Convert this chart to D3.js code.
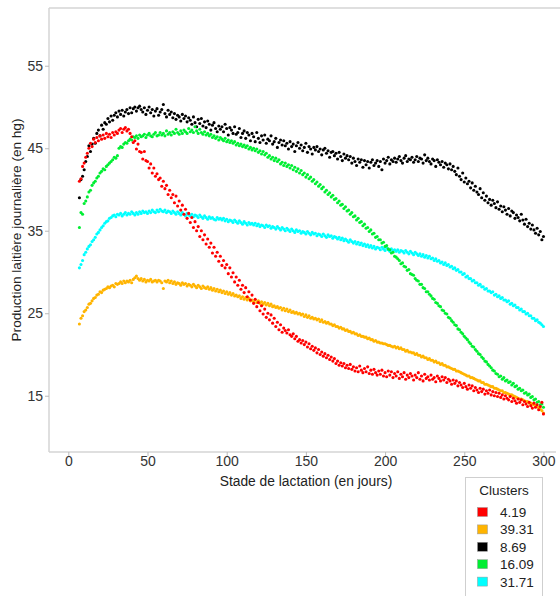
<!DOCTYPE html>
<html><head><meta charset="utf-8">
<script src="https://cdn.jsdelivr.net/npm/d3@7"></script>
<style>body{margin:0;background:#fff}svg{display:block;font-family:"Liberation Sans",Arial,sans-serif}</style>
</head><body><svg id="c" width="560" height="596"></svg>
<script>
const firstDay = 7, lastDay = 300;
const xTicks = [0, 50, 100, 150, 200, 250, 300];
const yTicks = [15, 25, 35, 45, 55];
const clusterLabels = ["4.19", "39.31", "8.69", "16.09", "31.71"];
const clusterColors = ["#ff0000", "#ffb400", "#000000", "#00ee33", "#00ffff"];

const red = [41.0,41.3,42.8,43.2,43.9,44.4,45.0,45.6,45.2,46.1,
45.7,46.3,45.9,46.5,46.1,46.6,46.2,46.8,46.4,46.7,
46.3,46.9,46.6,47.0,46.8,47.2,47.4,46.9,47.3,47.5,
47.1,47.3,46.8,46.4,45.7,45.9,44.9,45.5,44.6,44.5,
43.7,44.6,43.5,43.4,42.6,43.1,42.0,42.6,41.6,41.9,
41.2,41.4,40.4,41.0,40.1,40.5,39.4,39.9,39.0,39.4,
38.4,39.2,38.0,38.6,37.5,38.1,37.0,37.6,36.5,37.1,
36.0,36.6,35.4,36.1,35.0,35.5,34.3,35.0,33.9,34.5,
33.4,34.0,33.0,33.5,32.3,33.0,31.9,32.4,31.3,31.9,
30.8,31.4,30.5,30.9,29.8,30.5,29.4,29.9,28.8,29.4,
28.4,29.0,27.9,28.4,27.5,28.1,27.0,27.6,26.6,27.2,
26.2,26.7,25.8,26.3,25.3,25.9,24.9,25.5,24.5,25.0,
24.2,24.8,23.8,24.4,23.4,23.9,23.0,23.6,22.7,23.2,
22.9,22.6,23.0,22.4,22.2,22.5,21.9,22.2,21.6,21.8,
21.4,21.7,21.2,21.5,20.9,21.3,20.7,21.0,20.5,20.8,
20.2,20.6,20.0,20.3,19.8,20.1,19.6,19.9,19.4,19.7,
19.2,19.5,18.9,19.2,18.7,19.0,18.6,18.9,18.4,18.7,
18.3,18.8,18.2,18.5,18.0,18.4,17.9,18.6,18.1,17.8,
18.3,17.9,18.5,17.7,18.1,17.6,18.2,17.8,17.5,18.0,
17.6,18.1,17.4,17.8,17.3,18.0,17.5,17.9,17.2,17.7,
17.4,17.9,17.1,17.6,17.3,17.8,17.0,17.5,17.2,17.7,
17.4,16.9,17.5,17.2,17.8,17.0,17.4,16.8,17.6,17.1,
17.3,16.9,17.5,17.0,17.2,16.7,17.4,17.1,16.8,17.3,
16.9,17.2,16.6,17.0,16.8,16.4,16.9,16.5,16.8,16.2,
16.6,16.3,16.0,16.5,16.1,15.8,16.3,15.9,16.2,15.6,
16.0,15.7,15.4,15.9,15.5,15.8,15.2,15.6,15.3,15.7,
15.1,15.5,15.0,15.4,14.9,15.3,14.8,15.1,14.6,15.0,
14.7,14.5,14.9,14.3,14.7,14.4,14.1,14.6,14.2,14.5,
13.9,14.3,14.0,13.7,14.2,13.8,13.5,14.1,13.6,13.9,
13.3,13.7,14.2,12.8];

const orange = [23.7,24.4,24.7,25.2,25.4,25.7,26.1,26.2,26.5,26.8,
26.9,27.2,27.3,27.6,27.5,27.8,27.9,28.0,28.2,28.1,
28.3,28.4,28.2,28.6,28.5,28.6,28.8,28.6,28.9,28.7,
28.9,28.8,29.0,28.7,29.1,29.3,29.5,29.2,29.0,29.2,
28.9,29.1,28.8,29.0,28.9,29.1,28.8,28.9,29.0,28.8,
29.0,28.9,28.7,28.0,28.9,28.8,29.0,28.7,28.9,28.6,
28.8,28.5,28.7,28.6,28.4,28.7,28.5,28.6,28.3,28.5,
28.4,28.2,28.5,28.3,28.1,28.4,28.2,28.0,28.3,28.1,
28.0,28.2,27.9,28.1,27.8,28.0,27.7,27.9,27.6,27.8,
27.5,27.7,27.4,27.6,27.3,27.5,27.2,27.4,27.1,27.2,
27.0,27.1,26.8,27.0,26.7,26.9,26.6,26.8,26.5,26.6,
26.4,26.6,26.3,26.5,26.2,26.4,26.1,26.3,26.0,26.2,
25.9,26.1,25.8,25.9,25.7,25.8,25.6,25.7,25.4,25.6,
25.3,25.5,25.2,25.4,25.1,25.2,25.0,25.1,24.9,25.0,
24.8,24.9,24.6,24.8,24.5,24.7,24.4,24.5,24.3,24.4,
24.2,24.3,24.0,24.2,23.9,24.0,23.8,23.9,23.7,23.7,
23.5,23.6,23.4,23.4,23.2,23.3,23.1,23.1,22.9,23.0,
22.8,22.8,22.6,22.7,22.5,22.5,22.3,22.4,22.2,22.2,
22.1,22.1,21.9,22.0,21.8,21.8,21.6,21.7,21.5,21.5,
21.4,21.4,21.3,21.3,21.2,21.1,21.1,21.0,20.9,21.0,
20.8,20.9,20.7,20.8,20.6,20.6,20.4,20.5,20.3,20.3,
20.2,20.2,20.0,20.1,19.9,19.9,19.7,19.8,19.6,19.6,
19.4,19.5,19.3,19.3,19.1,19.2,19.0,19.0,18.8,18.9,
18.7,18.7,18.5,18.5,18.4,18.3,18.2,18.2,18.0,18.0,
17.9,17.8,17.7,17.6,17.5,17.4,17.4,17.2,17.2,17.1,
17.0,16.9,16.8,16.8,16.6,16.6,16.4,16.4,16.3,16.2,
16.1,16.1,15.9,15.9,15.8,15.7,15.6,15.6,15.4,15.4,
15.3,15.2,15.1,15.1,15.0,14.9,14.8,14.7,14.6,14.6,
14.5,14.4,14.3,14.3,14.1,14.1,14.0,13.9,13.8,13.7,
13.5,13.4,13.2,12.9];

const black = [39.0,41.2,41.6,42.4,43.4,44.0,45.3,44.6,45.5,46.2,
45.6,46.8,47.2,46.5,47.8,47.3,48.1,47.9,48.6,48.2,
48.9,48.4,49.0,49.3,48.8,49.5,49.1,49.6,48.9,49.4,
49.7,49.2,49.9,49.3,49.8,50.0,49.5,49.9,50.1,49.7,
49.4,49.9,49.1,49.6,50.0,49.3,49.7,48.9,49.5,49.8,
49.0,49.4,49.7,50.3,49.2,48.8,49.6,49.1,49.4,48.7,
49.2,48.5,49.0,48.8,48.3,49.1,48.6,48.9,48.2,48.7,
48.4,47.9,48.8,48.1,47.6,48.5,48.0,48.6,47.7,48.2,
47.5,48.3,47.9,47.2,47.8,48.1,47.4,47.0,47.7,47.3,
47.6,47.0,47.9,47.4,46.6,47.5,47.2,46.8,47.6,46.7,
46.9,47.4,46.3,46.8,47.1,46.2,46.9,46.6,45.9,46.8,
46.4,45.8,46.9,46.2,45.7,46.5,46.0,46.6,45.6,46.1,
45.9,46.5,45.5,45.8,46.2,45.1,45.7,46.0,45.4,45.9,
45.3,45.6,44.9,45.8,45.2,45.5,44.6,45.3,45.7,45.0,
45.4,44.7,45.1,45.6,44.5,45.2,44.9,44.3,45.1,44.8,
45.2,44.6,44.9,44.2,44.8,45.0,44.4,44.7,43.9,44.5,
44.6,44.1,44.4,43.7,44.5,44.0,43.5,44.3,43.8,44.1,
43.6,44.0,43.2,43.8,43.4,42.9,43.7,43.3,43.6,42.7,
43.5,43.0,43.4,42.6,43.3,43.6,42.9,43.2,43.5,42.8,
43.4,42.4,43.7,43.2,43.5,43.9,43.1,43.6,43.4,43.8,
43.3,43.7,44.0,43.5,43.2,43.8,44.1,43.4,43.7,43.6,
43.9,43.3,43.6,44.0,43.4,43.8,43.7,43.2,44.2,43.5,
43.8,43.4,43.1,43.7,43.5,42.8,43.6,43.3,43.0,43.4,
42.7,43.2,43.0,42.5,43.1,42.4,42.8,42.2,41.8,42.6,
41.6,41.2,42.0,40.9,41.4,40.7,41.0,40.2,40.8,39.9,
40.4,39.7,39.4,40.1,39.0,39.6,38.7,39.2,38.4,38.8,
38.1,38.7,38.3,37.8,38.5,37.6,38.0,37.3,37.9,37.5,
37.0,37.7,36.8,37.4,37.2,36.5,36.9,36.6,36.2,37.0,
36.3,35.8,36.4,35.5,35.9,35.2,35.7,35.1,34.7,35.3,
34.5,34.9,33.9,34.3];

const green = [35.4,37.2,37.0,38.3,38.6,39.1,39.7,39.9,40.5,40.8,
41.0,41.4,41.6,42.0,42.2,42.5,42.4,42.8,43.0,43.2,
43.4,43.6,43.9,43.8,44.1,45.0,45.2,45.1,45.5,45.7,
45.6,45.9,46.1,46.0,46.4,46.3,46.5,46.2,46.6,46.4,
46.5,46.7,46.3,46.6,46.8,46.5,46.4,46.7,46.9,46.5,
46.6,46.9,46.6,46.8,46.5,47.1,46.7,46.9,46.6,47.0,
46.8,47.3,46.9,46.7,47.1,46.8,47.2,47.0,46.8,47.4,
47.0,47.2,46.9,47.6,47.1,46.8,47.3,46.9,46.7,47.0,
46.6,46.8,46.5,46.7,46.3,46.5,46.2,46.4,46.0,46.3,
46.1,45.9,46.2,45.8,46.0,45.7,45.9,45.6,45.8,45.4,
45.6,45.3,45.5,45.2,45.4,45.1,45.3,44.9,45.1,44.8,
45.0,44.7,44.9,44.5,44.7,44.3,44.6,44.2,44.4,43.9,
44.1,43.7,43.9,43.5,43.8,43.4,43.6,43.1,43.3,42.9,
43.2,42.8,43.0,42.6,42.9,42.4,42.7,42.2,42.5,42.0,
42.3,41.8,42.0,41.5,41.8,41.3,41.5,41.0,41.2,40.7,
40.9,40.4,40.6,40.1,40.3,39.7,39.9,39.4,39.6,39.1,
39.3,38.8,38.9,38.4,38.6,38.1,38.2,37.7,37.9,37.4,
37.5,37.0,37.2,36.7,36.8,36.3,36.5,36.0,36.1,35.6,
35.8,35.3,35.4,34.9,35.1,34.6,34.7,34.2,34.3,33.9,
33.9,33.5,33.6,33.1,33.2,32.8,32.7,32.3,32.4,31.9,
31.8,31.6,31.4,31.0,31.1,30.7,30.6,30.2,30.3,29.8,
29.7,29.6,29.2,29.0,28.9,28.5,28.5,28.1,28.0,27.6,
27.6,27.3,27.1,26.8,26.7,26.3,26.2,25.9,25.8,25.4,
25.3,25.0,24.9,24.5,24.4,24.1,23.9,23.6,23.5,23.1,
23.0,22.7,22.5,22.2,22.0,21.8,21.5,21.3,21.0,20.9,
20.6,20.4,20.1,20.0,19.7,19.5,19.2,19.1,18.8,18.6,
18.4,18.1,18.0,17.7,17.6,17.3,17.4,17.0,17.2,16.8,
16.9,16.6,16.7,16.3,16.5,16.1,16.2,15.8,15.9,15.6,
15.7,15.3,15.4,15.1,15.2,14.8,14.9,14.5,14.6,14.2,
14.3,13.9,14.0,13.6];

const cyan = [30.5,30.9,31.4,32.1,32.4,32.8,33.1,33.3,33.7,33.9,
34.2,34.6,34.8,35.1,35.4,35.6,35.9,36.1,36.2,36.5,
36.6,36.8,36.9,36.7,37.0,36.9,37.1,36.8,37.0,37.2,
36.9,37.1,37.0,37.3,37.1,36.9,37.2,37.0,37.3,37.1,
37.4,37.2,37.3,37.1,37.4,37.2,37.5,37.3,37.2,37.5,
37.3,37.6,37.4,37.3,37.5,37.2,37.4,37.3,37.1,37.4,
37.2,37.0,37.3,37.1,36.9,37.2,37.0,36.8,37.1,36.9,
36.8,37.0,36.7,36.9,36.8,36.6,36.9,36.7,36.5,36.8,
36.6,36.4,36.7,36.5,36.6,36.4,36.3,36.6,36.4,36.5,
36.3,36.5,36.2,36.4,36.1,36.3,36.2,36.0,36.3,36.1,
35.9,36.2,36.0,35.8,36.1,35.9,35.7,36.0,35.8,35.9,
35.7,35.9,35.6,35.8,35.5,35.7,35.6,35.4,35.7,35.5,
35.6,35.3,35.5,35.4,35.2,35.5,35.3,35.1,35.4,35.2,
35.0,35.3,35.1,34.9,35.2,35.0,34.8,35.1,34.9,35.0,
34.7,34.9,34.8,34.6,34.9,34.7,34.5,34.8,34.6,34.7,
34.4,34.6,34.5,34.3,34.6,34.4,34.2,34.5,34.3,34.4,
34.1,34.3,34.2,34.0,34.2,33.9,34.1,33.8,34.0,33.8,
33.6,33.9,33.7,33.5,33.7,33.4,33.6,33.3,33.5,33.2,
33.4,33.1,33.3,33.0,33.2,32.9,33.1,32.8,33.0,32.9,
32.7,33.0,32.8,32.6,32.9,32.7,32.5,32.8,32.6,32.7,
32.5,32.7,32.4,32.6,32.5,32.3,32.6,32.4,32.2,32.5,
32.3,32.1,32.4,32.2,32.0,32.2,31.9,32.1,31.8,32.0,
31.7,31.9,31.6,31.7,31.4,31.6,31.3,31.4,31.1,31.2,
30.9,31.1,30.8,30.9,30.6,30.7,30.4,30.5,30.2,30.3,
30.0,30.0,29.7,29.8,29.4,29.5,29.2,29.2,28.9,29.0,
28.7,28.7,28.4,28.5,28.2,28.2,27.9,28.0,27.7,27.7,
27.5,27.6,27.2,27.3,27.0,27.1,26.8,26.9,26.6,26.6,
26.4,26.5,26.1,26.2,25.9,26.0,25.7,25.7,25.4,25.5,
25.2,25.2,24.9,25.0,24.7,24.7,24.4,24.4,24.1,24.2,
23.9,23.8,23.6,23.4];

const days = d3.range(firstDay, lastDay + 1);
const seriesValues = [red, orange, black, green, cyan];
const drawOrder = [4, 1, 2, 3, 0];

const svg = d3.select("#c");
const x = d3.scaleLinear().domain([-12.2, 303.5]).range([49, 549]);
const y = d3.scaleLinear().domain([8.18, 62]).range([452, 8]);
const frameColor = "#d4d4d4", textColor = "#333";
const fontFam = "Liberation Sans, Arial, sans-serif";

svg.append("line").attr("x1", 49).attr("x2", 560).attr("y1", 8).attr("y2", 8).attr("stroke", frameColor).attr("stroke-width", 1.5);
svg.append("line").attr("x1", 49).attr("x2", 49).attr("y1", 8).attr("y2", 452).attr("stroke", frameColor).attr("stroke-width", 1.5);
svg.append("line").attr("x1", 49).attr("x2", 556).attr("y1", 452).attr("y2", 452).attr("stroke", frameColor).attr("stroke-width", 1.5);

const gx = svg.append("g").attr("transform", "translate(0,452)")
  .call(d3.axisBottom(x).tickValues(xTicks).tickSize(4).tickSizeOuter(0).tickPadding(0));
const gy = svg.append("g").attr("transform", "translate(49,0)")
  .call(d3.axisLeft(y).tickValues(yTicks).tickSize(4).tickSizeOuter(0).tickPadding(2));
[gx, gy].forEach(g => {
  g.select(".domain").remove();
  g.selectAll(".tick line").attr("stroke", "#bbb");
  g.selectAll(".tick text").attr("fill", textColor).style("font-size", "14px").style("font-family", fontFam);
});

svg.append("text").attr("x", 306).attr("y", 486).attr("text-anchor", "middle")
  .attr("fill", "#222").style("font-size", "13.8px").text("Stade de lactation (en jours)");
svg.append("text").attr("transform", "translate(21,230) rotate(-90)").attr("text-anchor", "middle")
  .attr("fill", "#222").style("font-size", "13.6px").text("Production laitière journalière (en hg)");

const plot = svg.append("g");
drawOrder.forEach(si => {
  plot.append("g").selectAll("circle").data(seriesValues[si]).join("circle")
    .attr("cx", (d, i) => x(days[i]))
    .attr("cy", d => y(d))
    .attr("r", 1.55)
    .attr("fill", clusterColors[si]);
});

const lg = svg.append("g");
lg.append("rect").attr("x", 465.5).attr("y", 477.5).attr("width", 77).attr("height", 130)
  .attr("fill", "#fff").attr("stroke", "#cfcfcf");
lg.append("text").attr("x", 504).attr("y", 495).attr("text-anchor", "middle")
  .attr("fill", "#222").style("font-size", "13.5px").text("Clusters");
clusterLabels.forEach((lab, i) => {
  const cy = 512 + i * 17.4;
  lg.append("rect").attr("x", 477.5).attr("y", cy - 4.5).attr("width", 10).attr("height", 9)
    .attr("fill", clusterColors[i]).attr("stroke", "#999").attr("stroke-width", 0.5);
  lg.append("text").attr("x", 500).attr("y", cy + 5).attr("fill", "#222")
    .style("font-size", "13.5px").text(lab);
});
</script></body></html>
